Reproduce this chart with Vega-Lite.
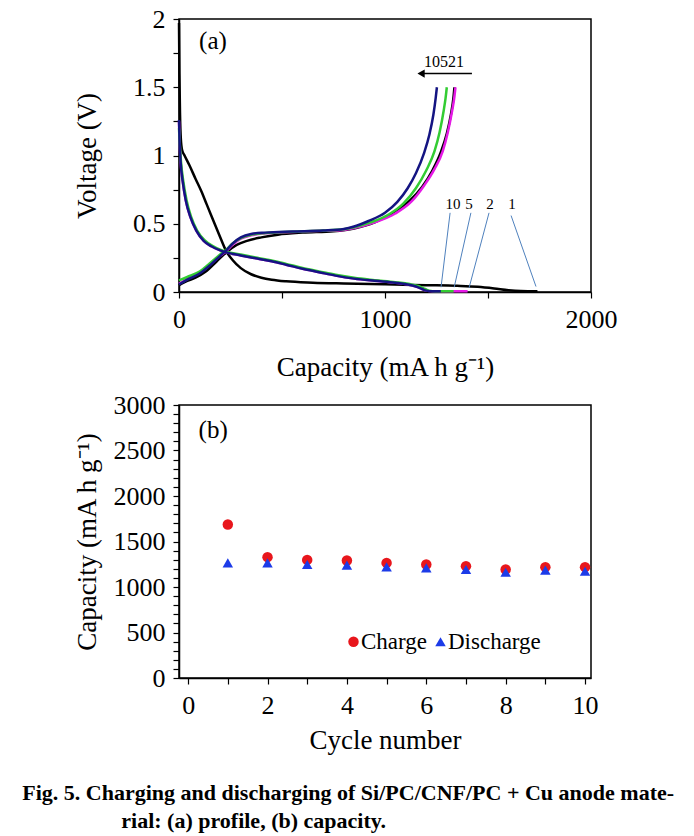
{
  "$schema": "https://vega.github.io/schema/vega-lite/v6.json",
  "background": "white",
  "padding": {"left": 22, "top": 5, "right": 5, "bottom": 5},
  "config": {
    "view": {"stroke": "black", "strokeWidth": 1.5},
    "axis": {
      "grid": false, "domainColor": "black", "domainWidth": 1.5,
      "tickColor": "black", "tickWidth": 1.2, "tickSize": 6, "tickCount": 100,
      "labelFont": "Liberation Serif", "labelFontSize": 26, "labelColor": "black",
      "labelPadding": 8, "labelFlush": false, "labelOverlap": false,
      "titleFont": "Liberation Serif", "titleFontSize": 27, "titleFontWeight": "normal", "titleColor": "black"
    },
    "text": {"font": "Liberation Serif", "color": "black"}
  },
  "title": {
    "text": ["Fig. 5. Charging and discharging of Si/PC/CNF/PC + Cu anode mate-", "\u200b\u00a0\u00a0\u00a0\u00a0\u00a0\u00a0\u00a0\u00a0\u00a0\u00a0\u00a0\u00a0\u00a0\u00a0\u00a0\u00a0\u00a0\u00a0rial: (a) profile, (b) capacity."],
    "orient": "bottom", "anchor": "start", "font": "Liberation Serif", "fontSize": 22,
    "fontWeight": "bold", "color": "black", "lineHeight": 28, "offset": 29, "dx": -50
  },
  "spacing": 10,
  "resolve": {"scale": {"x": "independent", "y": "independent", "color": "independent", "shape": "independent"}},
  "vconcat": [
    {
      "width": 412, "height": 273,
      "layer": [
        {
          "data": {"name": "curves"},
          "mark": {"type": "line", "strokeWidth": 2.5, "interpolate": "monotone"},
          "encoding": {
            "x": {"field": "cap", "type": "quantitative",
              "scale": {"domain": [0, 2000], "nice": false, "zero": false},
              "axis": {"title": "Capacity (mA h g\u207b\u00b9)", "values": [0, 500, 1000, 1500, 2000], "format": "d",
                "labelExpr": "datum.value % 1000 === 0 ? datum.label : ''", "titlePadding": 22}},
            "y": {"field": "volt", "type": "quantitative",
              "scale": {"domain": [0, 2], "nice": false},
              "axis": {"title": "Voltage (V)", "values": [0, 0.25, 0.5, 0.75, 1, 1.25, 1.5, 1.75, 2],
                "labelExpr": "datum.value % 0.5 === 0 ? '' + datum.value : ''", "titleX": -78, "titleY": 136.5}},
            "color": {"field": "cycle", "type": "nominal",
              "scale": {"domain": ["1", "2", "5", "10"], "range": ["#000000", "#e619e6", "#33cc33", "#141482"]},
              "legend": null},
            "detail": {"field": "branch"}
          }
        },
        {
          "data": {"name": "arrows"},
          "mark": {"type": "rule", "color": "#4f81bd", "strokeWidth": 1},
          "encoding": {
            "x": {"field": "cap", "type": "quantitative"},
            "y": {"field": "volt", "type": "quantitative"},
            "x2": {"field": "cap2"},
            "y2": {"field": "volt2"}
          }
        },
        {
          "data": {"name": "labels"},
          "mark": {"type": "text", "fontSize": 15},
          "encoding": {
            "x": {"field": "cap", "type": "quantitative"},
            "y": {"field": "volt", "type": "quantitative"},
            "text": {"field": "label"}
          }
        },
        {
          "data": {"values": [{}]},
          "mark": {"type": "rule", "color": "black", "strokeWidth": 1.5},
          "encoding": {"x": {"datum": 1422}, "x2": {"datum": 1180}, "y": {"datum": 1.6}}
        },
        {
          "data": {"values": [{}]},
          "mark": {"type": "point", "shape": "triangle-left", "filled": true, "color": "black", "size": 70, "opacity": 1},
          "encoding": {"x": {"datum": 1175}, "y": {"datum": 1.6}}
        },
        {
          "data": {"values": [{}]},
          "mark": {"type": "text", "fontSize": 16},
          "encoding": {"x": {"datum": 1286}, "y": {"datum": 1.685}, "text": {"value": "10521"}}
        },
        {
          "data": {"values": [{}]},
          "mark": {"type": "text", "fontSize": 25},
          "encoding": {"x": {"datum": 165}, "y": {"datum": 1.84}, "text": {"value": "(a)"}}
        }
      ]
    },
    {
      "width": 412, "height": 273,
      "layer": [
        {
          "data": {"name": "cycles"},
          "mark": {"type": "point", "filled": true, "opacity": 1, "size": 110},
          "encoding": {
            "x": {"field": "cycle", "type": "quantitative",
              "scale": {"domain": [-0.23, 10.15], "nice": false, "zero": false},
              "axis": {"title": "Cycle number", "values": [0, 1, 2, 3, 4, 5, 6, 7, 8, 9, 10], "format": "d",
                "labelExpr": "datum.value % 2 === 0 ? datum.label : ''", "titlePadding": 9}},
            "y": {"field": "capacity", "type": "quantitative",
              "scale": {"domain": [0, 3000], "nice": false},
              "axis": {"title": "Capacity (mA h g\u207b\u00b9)",
                "values": [0, 100, 200, 300, 400, 500, 600, 700, 800, 900, 1000, 1100, 1200, 1300, 1400, 1500, 1600, 1700, 1800, 1900, 2000, 2100, 2200, 2300, 2400, 2500, 2600, 2700, 2800, 2900, 3000],
                "format": "d", "labelExpr": "datum.value % 500 === 0 ? datum.label : ''", "titleX": -78, "titleY": 136.5}},
            "color": {"field": "type", "type": "nominal",
              "scale": {"domain": ["Charge", "Discharge"], "range": ["#e8161c", "#1c3be8"]},
              "legend": {"title": null, "orient": "none", "legendX": 163, "legendY": 225, "direction": "horizontal",
                "labelFont": "Liberation Serif", "labelFontSize": 23, "labelColor": "black", "symbolSize": 110,
                "symbolStrokeWidth": 0, "columnPadding": 1, "labelOffset": -4, "padding": 0}},
            "shape": {"field": "type", "type": "nominal",
              "scale": {"domain": ["Charge", "Discharge"], "range": ["circle", "triangle-up"]},
              "legend": {"title": null, "orient": "none", "legendX": 163, "legendY": 225, "direction": "horizontal",
                "labelFont": "Liberation Serif", "labelFontSize": 23, "labelColor": "black", "symbolSize": 110,
                "symbolStrokeWidth": 0, "columnPadding": 1, "labelOffset": -4, "padding": 0}}
          }
        },
        {
          "data": {"values": [{}]},
          "mark": {"type": "text", "fontSize": 25},
          "encoding": {"x": {"datum": 0.63}, "y": {"datum": 2725}, "text": {"value": "(b)"}}
        }
      ]
    }
  ],
  "datasets": {
    "arrows": [
      {"cap": 1316, "volt": 0.58, "cap2": 1272, "volt2": 0.035},
      {"cap": 1417, "volt": 0.58, "cap2": 1336, "volt2": 0.035},
      {"cap": 1505, "volt": 0.58, "cap2": 1408, "volt2": 0.03},
      {"cap": 1612, "volt": 0.56, "cap2": 1733, "volt2": 0.04}
    ],
    "labels": [
      {"cap": 1330, "volt": 0.645, "label": "10"},
      {"cap": 1408, "volt": 0.645, "label": "5"},
      {"cap": 1510, "volt": 0.645, "label": "2"},
      {"cap": 1616, "volt": 0.645, "label": "1"}
    ],
    "cycles": [
      {"cycle": 1, "type": "Charge", "capacity": 1687},
      {"cycle": 2, "type": "Charge", "capacity": 1328},
      {"cycle": 3, "type": "Charge", "capacity": 1298},
      {"cycle": 4, "type": "Charge", "capacity": 1291},
      {"cycle": 5, "type": "Charge", "capacity": 1265},
      {"cycle": 6, "type": "Charge", "capacity": 1247},
      {"cycle": 7, "type": "Charge", "capacity": 1229},
      {"cycle": 8, "type": "Charge", "capacity": 1192},
      {"cycle": 9, "type": "Charge", "capacity": 1218},
      {"cycle": 10, "type": "Charge", "capacity": 1218},
      {"cycle": 1, "type": "Discharge", "capacity": 1265},
      {"cycle": 2, "type": "Discharge", "capacity": 1265},
      {"cycle": 3, "type": "Discharge", "capacity": 1247},
      {"cycle": 4, "type": "Discharge", "capacity": 1240},
      {"cycle": 5, "type": "Discharge", "capacity": 1221},
      {"cycle": 6, "type": "Discharge", "capacity": 1210},
      {"cycle": 7, "type": "Discharge", "capacity": 1192},
      {"cycle": 8, "type": "Discharge", "capacity": 1163},
      {"cycle": 9, "type": "Discharge", "capacity": 1185},
      {"cycle": 10, "type": "Discharge", "capacity": 1174}
    ],
    "curves": [
      {"cycle": "1", "branch": "d", "cap": 0, "volt": 1.97},
      {"cycle": "1", "branch": "d", "cap": 2, "volt": 1.6},
      {"cycle": "1", "branch": "d", "cap": 5, "volt": 1.3},
      {"cycle": "1", "branch": "d", "cap": 9, "volt": 1.12},
      {"cycle": "1", "branch": "d", "cap": 15, "volt": 1.04},
      {"cycle": "1", "branch": "d", "cap": 27, "volt": 1.0},
      {"cycle": "1", "branch": "d", "cap": 50, "volt": 0.93},
      {"cycle": "1", "branch": "d", "cap": 80, "volt": 0.83},
      {"cycle": "1", "branch": "d", "cap": 108, "volt": 0.74},
      {"cycle": "1", "branch": "d", "cap": 135, "volt": 0.64},
      {"cycle": "1", "branch": "d", "cap": 165, "volt": 0.53},
      {"cycle": "1", "branch": "d", "cap": 195, "volt": 0.42},
      {"cycle": "1", "branch": "d", "cap": 229, "volt": 0.3},
      {"cycle": "1", "branch": "d", "cap": 260, "volt": 0.235},
      {"cycle": "1", "branch": "d", "cap": 300, "volt": 0.175},
      {"cycle": "1", "branch": "d", "cap": 350, "volt": 0.13},
      {"cycle": "1", "branch": "d", "cap": 400, "volt": 0.105},
      {"cycle": "1", "branch": "d", "cap": 450, "volt": 0.09},
      {"cycle": "1", "branch": "d", "cap": 520, "volt": 0.078},
      {"cycle": "1", "branch": "d", "cap": 650, "volt": 0.068},
      {"cycle": "1", "branch": "d", "cap": 800, "volt": 0.062},
      {"cycle": "1", "branch": "d", "cap": 1000, "volt": 0.056},
      {"cycle": "1", "branch": "d", "cap": 1200, "volt": 0.05},
      {"cycle": "1", "branch": "d", "cap": 1350, "volt": 0.045},
      {"cycle": "1", "branch": "d", "cap": 1450, "volt": 0.038},
      {"cycle": "1", "branch": "d", "cap": 1530, "volt": 0.026},
      {"cycle": "1", "branch": "d", "cap": 1600, "volt": 0.013},
      {"cycle": "1", "branch": "d", "cap": 1660, "volt": 0.007},
      {"cycle": "1", "branch": "d", "cap": 1740, "volt": 0.005},
      {"cycle": "1", "branch": "c", "cap": 0, "volt": 0.05},
      {"cycle": "1", "branch": "c", "cap": 30, "volt": 0.075},
      {"cycle": "1", "branch": "c", "cap": 80, "volt": 0.105},
      {"cycle": "1", "branch": "c", "cap": 130, "volt": 0.15},
      {"cycle": "1", "branch": "c", "cap": 180, "volt": 0.22},
      {"cycle": "1", "branch": "c", "cap": 229, "volt": 0.29},
      {"cycle": "1", "branch": "c", "cap": 280, "volt": 0.345},
      {"cycle": "1", "branch": "c", "cap": 330, "volt": 0.375},
      {"cycle": "1", "branch": "c", "cap": 400, "volt": 0.4},
      {"cycle": "1", "branch": "c", "cap": 480, "volt": 0.42},
      {"cycle": "1", "branch": "c", "cap": 600, "volt": 0.435},
      {"cycle": "1", "branch": "c", "cap": 750, "volt": 0.445},
      {"cycle": "1", "branch": "c", "cap": 850, "volt": 0.465},
      {"cycle": "1", "branch": "c", "cap": 950, "volt": 0.51},
      {"cycle": "1", "branch": "c", "cap": 1050, "volt": 0.59},
      {"cycle": "1", "branch": "c", "cap": 1120, "volt": 0.67},
      {"cycle": "1", "branch": "c", "cap": 1180, "volt": 0.77},
      {"cycle": "1", "branch": "c", "cap": 1230, "volt": 0.89},
      {"cycle": "1", "branch": "c", "cap": 1270, "volt": 1.02},
      {"cycle": "1", "branch": "c", "cap": 1300, "volt": 1.16},
      {"cycle": "1", "branch": "c", "cap": 1320, "volt": 1.3},
      {"cycle": "1", "branch": "c", "cap": 1332, "volt": 1.42},
      {"cycle": "1", "branch": "c", "cap": 1337, "volt": 1.5},
      {"cycle": "2", "branch": "d", "cap": 0, "volt": 1.25},
      {"cycle": "2", "branch": "d", "cap": 3, "volt": 1.1},
      {"cycle": "2", "branch": "d", "cap": 8, "volt": 0.95},
      {"cycle": "2", "branch": "d", "cap": 18, "volt": 0.81},
      {"cycle": "2", "branch": "d", "cap": 33, "volt": 0.67},
      {"cycle": "2", "branch": "d", "cap": 55, "volt": 0.55},
      {"cycle": "2", "branch": "d", "cap": 84, "volt": 0.45},
      {"cycle": "2", "branch": "d", "cap": 120, "volt": 0.375},
      {"cycle": "2", "branch": "d", "cap": 157, "volt": 0.335},
      {"cycle": "2", "branch": "d", "cap": 200, "volt": 0.305},
      {"cycle": "2", "branch": "d", "cap": 229, "volt": 0.29},
      {"cycle": "2", "branch": "d", "cap": 300, "volt": 0.268},
      {"cycle": "2", "branch": "d", "cap": 380, "volt": 0.245},
      {"cycle": "2", "branch": "d", "cap": 450, "volt": 0.225},
      {"cycle": "2", "branch": "d", "cap": 520, "volt": 0.2},
      {"cycle": "2", "branch": "d", "cap": 600, "volt": 0.17},
      {"cycle": "2", "branch": "d", "cap": 680, "volt": 0.145},
      {"cycle": "2", "branch": "d", "cap": 760, "volt": 0.12},
      {"cycle": "2", "branch": "d", "cap": 850, "volt": 0.098},
      {"cycle": "2", "branch": "d", "cap": 950, "volt": 0.082},
      {"cycle": "2", "branch": "d", "cap": 1050, "volt": 0.068},
      {"cycle": "2", "branch": "d", "cap": 1110, "volt": 0.055},
      {"cycle": "2", "branch": "d", "cap": 1150, "volt": 0.04},
      {"cycle": "2", "branch": "d", "cap": 1180, "volt": 0.022},
      {"cycle": "2", "branch": "d", "cap": 1200, "volt": 0.01},
      {"cycle": "2", "branch": "d", "cap": 1230, "volt": 0.005},
      {"cycle": "2", "branch": "d", "cap": 1401, "volt": 0.005},
      {"cycle": "2", "branch": "c", "cap": 0, "volt": 0.06},
      {"cycle": "2", "branch": "c", "cap": 40, "volt": 0.095},
      {"cycle": "2", "branch": "c", "cap": 100, "volt": 0.14},
      {"cycle": "2", "branch": "c", "cap": 150, "volt": 0.2},
      {"cycle": "2", "branch": "c", "cap": 200, "volt": 0.265},
      {"cycle": "2", "branch": "c", "cap": 229, "volt": 0.3},
      {"cycle": "2", "branch": "c", "cap": 260, "volt": 0.345},
      {"cycle": "2", "branch": "c", "cap": 300, "volt": 0.39},
      {"cycle": "2", "branch": "c", "cap": 350, "volt": 0.415},
      {"cycle": "2", "branch": "c", "cap": 420, "volt": 0.43},
      {"cycle": "2", "branch": "c", "cap": 550, "volt": 0.44},
      {"cycle": "2", "branch": "c", "cap": 700, "volt": 0.448},
      {"cycle": "2", "branch": "c", "cap": 800, "volt": 0.455},
      {"cycle": "2", "branch": "c", "cap": 850, "volt": 0.468},
      {"cycle": "2", "branch": "c", "cap": 950, "volt": 0.51},
      {"cycle": "2", "branch": "c", "cap": 1050, "volt": 0.575},
      {"cycle": "2", "branch": "c", "cap": 1130, "volt": 0.665},
      {"cycle": "2", "branch": "c", "cap": 1190, "volt": 0.78},
      {"cycle": "2", "branch": "c", "cap": 1240, "volt": 0.9},
      {"cycle": "2", "branch": "c", "cap": 1280, "volt": 1.03},
      {"cycle": "2", "branch": "c", "cap": 1305, "volt": 1.17},
      {"cycle": "2", "branch": "c", "cap": 1325, "volt": 1.32},
      {"cycle": "2", "branch": "c", "cap": 1336, "volt": 1.42},
      {"cycle": "2", "branch": "c", "cap": 1342, "volt": 1.5},
      {"cycle": "5", "branch": "d", "cap": 0, "volt": 1.2},
      {"cycle": "5", "branch": "d", "cap": 4, "volt": 1.08},
      {"cycle": "5", "branch": "d", "cap": 10, "volt": 0.95},
      {"cycle": "5", "branch": "d", "cap": 21, "volt": 0.81},
      {"cycle": "5", "branch": "d", "cap": 37, "volt": 0.67},
      {"cycle": "5", "branch": "d", "cap": 59, "volt": 0.55},
      {"cycle": "5", "branch": "d", "cap": 88, "volt": 0.45},
      {"cycle": "5", "branch": "d", "cap": 124, "volt": 0.38},
      {"cycle": "5", "branch": "d", "cap": 160, "volt": 0.34},
      {"cycle": "5", "branch": "d", "cap": 200, "volt": 0.31},
      {"cycle": "5", "branch": "d", "cap": 229, "volt": 0.295},
      {"cycle": "5", "branch": "d", "cap": 300, "volt": 0.274},
      {"cycle": "5", "branch": "d", "cap": 380, "volt": 0.251},
      {"cycle": "5", "branch": "d", "cap": 450, "volt": 0.231},
      {"cycle": "5", "branch": "d", "cap": 520, "volt": 0.206},
      {"cycle": "5", "branch": "d", "cap": 600, "volt": 0.176},
      {"cycle": "5", "branch": "d", "cap": 680, "volt": 0.151},
      {"cycle": "5", "branch": "d", "cap": 760, "volt": 0.126},
      {"cycle": "5", "branch": "d", "cap": 850, "volt": 0.104},
      {"cycle": "5", "branch": "d", "cap": 950, "volt": 0.087},
      {"cycle": "5", "branch": "d", "cap": 1050, "volt": 0.072},
      {"cycle": "5", "branch": "d", "cap": 1120, "volt": 0.058},
      {"cycle": "5", "branch": "d", "cap": 1165, "volt": 0.042},
      {"cycle": "5", "branch": "d", "cap": 1195, "volt": 0.022},
      {"cycle": "5", "branch": "d", "cap": 1215, "volt": 0.01},
      {"cycle": "5", "branch": "d", "cap": 1245, "volt": 0.005},
      {"cycle": "5", "branch": "d", "cap": 1333, "volt": 0.005},
      {"cycle": "5", "branch": "c", "cap": 0, "volt": 0.085},
      {"cycle": "5", "branch": "c", "cap": 40, "volt": 0.11},
      {"cycle": "5", "branch": "c", "cap": 100, "volt": 0.15},
      {"cycle": "5", "branch": "c", "cap": 150, "volt": 0.21},
      {"cycle": "5", "branch": "c", "cap": 200, "volt": 0.275},
      {"cycle": "5", "branch": "c", "cap": 229, "volt": 0.31},
      {"cycle": "5", "branch": "c", "cap": 260, "volt": 0.355},
      {"cycle": "5", "branch": "c", "cap": 300, "volt": 0.395},
      {"cycle": "5", "branch": "c", "cap": 350, "volt": 0.42},
      {"cycle": "5", "branch": "c", "cap": 420, "volt": 0.432},
      {"cycle": "5", "branch": "c", "cap": 550, "volt": 0.442},
      {"cycle": "5", "branch": "c", "cap": 700, "volt": 0.45},
      {"cycle": "5", "branch": "c", "cap": 800, "volt": 0.46},
      {"cycle": "5", "branch": "c", "cap": 850, "volt": 0.475},
      {"cycle": "5", "branch": "c", "cap": 930, "volt": 0.51},
      {"cycle": "5", "branch": "c", "cap": 1020, "volt": 0.57},
      {"cycle": "5", "branch": "c", "cap": 1090, "volt": 0.65},
      {"cycle": "5", "branch": "c", "cap": 1150, "volt": 0.76},
      {"cycle": "5", "branch": "c", "cap": 1200, "volt": 0.89},
      {"cycle": "5", "branch": "c", "cap": 1240, "volt": 1.03},
      {"cycle": "5", "branch": "c", "cap": 1265, "volt": 1.17},
      {"cycle": "5", "branch": "c", "cap": 1285, "volt": 1.33},
      {"cycle": "5", "branch": "c", "cap": 1294, "volt": 1.42},
      {"cycle": "5", "branch": "c", "cap": 1300, "volt": 1.5},
      {"cycle": "10", "branch": "d", "cap": 0, "volt": 1.26},
      {"cycle": "10", "branch": "d", "cap": 3, "volt": 1.1},
      {"cycle": "10", "branch": "d", "cap": 8, "volt": 0.95},
      {"cycle": "10", "branch": "d", "cap": 18, "volt": 0.81},
      {"cycle": "10", "branch": "d", "cap": 33, "volt": 0.67},
      {"cycle": "10", "branch": "d", "cap": 55, "volt": 0.55},
      {"cycle": "10", "branch": "d", "cap": 84, "volt": 0.45},
      {"cycle": "10", "branch": "d", "cap": 120, "volt": 0.375},
      {"cycle": "10", "branch": "d", "cap": 157, "volt": 0.335},
      {"cycle": "10", "branch": "d", "cap": 200, "volt": 0.305},
      {"cycle": "10", "branch": "d", "cap": 229, "volt": 0.29},
      {"cycle": "10", "branch": "d", "cap": 300, "volt": 0.268},
      {"cycle": "10", "branch": "d", "cap": 380, "volt": 0.245},
      {"cycle": "10", "branch": "d", "cap": 450, "volt": 0.225},
      {"cycle": "10", "branch": "d", "cap": 520, "volt": 0.2},
      {"cycle": "10", "branch": "d", "cap": 600, "volt": 0.17},
      {"cycle": "10", "branch": "d", "cap": 680, "volt": 0.145},
      {"cycle": "10", "branch": "d", "cap": 760, "volt": 0.12},
      {"cycle": "10", "branch": "d", "cap": 850, "volt": 0.098},
      {"cycle": "10", "branch": "d", "cap": 950, "volt": 0.082},
      {"cycle": "10", "branch": "d", "cap": 1050, "volt": 0.068},
      {"cycle": "10", "branch": "d", "cap": 1110, "volt": 0.055},
      {"cycle": "10", "branch": "d", "cap": 1150, "volt": 0.04},
      {"cycle": "10", "branch": "d", "cap": 1180, "volt": 0.022},
      {"cycle": "10", "branch": "d", "cap": 1200, "volt": 0.01},
      {"cycle": "10", "branch": "d", "cap": 1230, "volt": 0.005},
      {"cycle": "10", "branch": "d", "cap": 1271, "volt": 0.005},
      {"cycle": "10", "branch": "c", "cap": 0, "volt": 0.055},
      {"cycle": "10", "branch": "c", "cap": 40, "volt": 0.09},
      {"cycle": "10", "branch": "c", "cap": 100, "volt": 0.135},
      {"cycle": "10", "branch": "c", "cap": 150, "volt": 0.195},
      {"cycle": "10", "branch": "c", "cap": 200, "volt": 0.265},
      {"cycle": "10", "branch": "c", "cap": 229, "volt": 0.305},
      {"cycle": "10", "branch": "c", "cap": 260, "volt": 0.355},
      {"cycle": "10", "branch": "c", "cap": 300, "volt": 0.4},
      {"cycle": "10", "branch": "c", "cap": 350, "volt": 0.425},
      {"cycle": "10", "branch": "c", "cap": 420, "volt": 0.435},
      {"cycle": "10", "branch": "c", "cap": 550, "volt": 0.443},
      {"cycle": "10", "branch": "c", "cap": 700, "volt": 0.45},
      {"cycle": "10", "branch": "c", "cap": 800, "volt": 0.462},
      {"cycle": "10", "branch": "c", "cap": 850, "volt": 0.48},
      {"cycle": "10", "branch": "c", "cap": 920, "volt": 0.52},
      {"cycle": "10", "branch": "c", "cap": 1000, "volt": 0.58},
      {"cycle": "10", "branch": "c", "cap": 1060, "volt": 0.66},
      {"cycle": "10", "branch": "c", "cap": 1110, "volt": 0.76},
      {"cycle": "10", "branch": "c", "cap": 1150, "volt": 0.87},
      {"cycle": "10", "branch": "c", "cap": 1190, "volt": 1.02},
      {"cycle": "10", "branch": "c", "cap": 1215, "volt": 1.15},
      {"cycle": "10", "branch": "c", "cap": 1235, "volt": 1.3},
      {"cycle": "10", "branch": "c", "cap": 1246, "volt": 1.42},
      {"cycle": "10", "branch": "c", "cap": 1252, "volt": 1.5}
    ]
  }
}
